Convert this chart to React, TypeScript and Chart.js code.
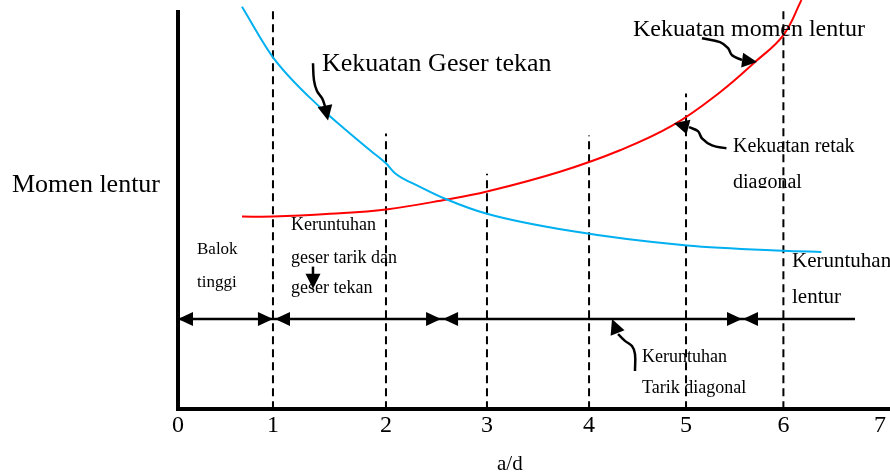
import React, { useEffect, useRef } from 'react';
import { Chart, registerables } from 'chart.js';

Chart.register(...registerables);

// ---- Data ----
const xTickValues = [0, 0.947, 2.074, 3.081, 4.099, 5.066, 6.037, 7.0];
const xTickLabels = ['0', '1', '2', '3', '4', '5', '6', '7'];

// Kekuatan Geser tekan (blue)
const shearX = [0.638, 0.947, 1.416, 1.665, 1.915, 2.074, 2.164, 2.413, 2.682, 3.081, 3.909, 5.076, 6.037, 6.416];
const shearY = [101.3, 88.6, 76.0, 70.5, 65.2, 61.9, 59.4, 56.0, 52.8, 49.2, 44.9, 41.2, 39.9, 39.6];

// Kekuatan momen lentur (red)
const momentX = [0.638, 0.947, 1.516, 2.074, 2.682, 3.081, 3.809, 4.408, 4.936, 5.405, 5.754, 6.037, 6.217];
const momentY = [48.5, 48.5, 49.2, 50.3, 52.8, 54.8, 59.8, 65.2, 71.5, 79.8, 87.4, 94.2, 103.0];

// Dashed region dividers
const dividerX = [0.947, 2.074, 3.081, 4.099, 5.066, 6.037];
const dividerTop = [100.5, 69.4, 59.3, 68.9, 79.5, 100.5];

// Failure-mode range bar with arrowheads
const rangeBarY = 22.7;
const rangeBarStart = 0;
const rangeBarEnd = 6.751;
const rangeArrowX = [0, 0.947, 0.967, 2.623, 2.643, 5.624, 5.634];
const rangeArrowDir = [-1, 1, -1, 1, -1, 1, -1];

// Pointer arrows (last point = arrow tip)
const geserPointerX = [1.346, 1.356, 1.386, 1.436, 1.466, 1.496];
const geserPointerY = [87.1, 82.8, 80.1, 78.3, 76.3, 72.7];
const momenPointerX = [5.225, 5.405, 5.485, 5.525, 5.624, 5.774];
const momenPointerY = [93.4, 92.4, 90.9, 89.1, 87.9, 87.4];
const retakPointerX = [5.469, 5.325, 5.225, 5.185, 5.096, 4.946];
const retakPointerY = [65.7, 66.4, 68.2, 70.0, 71.0, 72.0];
const tarikPointerX = [4.557, 4.557, 4.527, 4.457, 4.388, 4.328];
const tarikPointerY = [9.6, 13.9, 15.9, 17.2, 18.9, 22.7];
const smallPointerX = [1.346, 1.346, 1.346];
const smallPointerY = [35.9, 33.3, 30.3];

const pointers = [
  [geserPointerX, geserPointerY],
  [momenPointerX, momenPointerY],
  [retakPointerX, retakPointerY],
  [tarikPointerX, tarikPointerY],
  [smallPointerX, smallPointerY],
];

// ---- Text labels ----
const SERIF = "'Liberation Serif', 'Times New Roman', serif";
const labels = [
  { t: 'Momen lentur', x: 12, y: 192, size: 26 },
  { t: 'Kekuatan Geser tekan', x: 322, y: 71, size: 26 },
  { t: 'Kekuatan momen lentur', x: 633, y: 36, size: 24 },
  { t: 'Kekuatan retak', x: 733, y: 152, size: 20 },
  { t: 'diagonal', x: 733, y: 188, size: 20, clip: 188 },
  { t: 'Keruntuhan', x: 792, y: 267, size: 21 },
  { t: 'lentur', x: 792, y: 303, size: 21 },
  { t: 'Keruntuhan', x: 642, y: 362, size: 18 },
  { t: 'Tarik diagonal', x: 642, y: 393, size: 18 },
  { t: 'Balok', x: 197, y: 254, size: 17 },
  { t: 'tinggi', x: 197, y: 287, size: 17 },
  { t: 'Keruntuhan', x: 291, y: 230, size: 18 },
  { t: 'geser tarik dan', x: 291, y: 263, size: 18 },
  { t: 'geser tekan', x: 291, y: 293, size: 18 },
  { t: 'a/d', x: 497, y: 470, size: 21 },
];

const zip = (xs: number[], ys: number[]) => xs.map((x, i) => ({ x, y: ys[i] }));

function drawHead(ctx: CanvasRenderingContext2D, tx: number, ty: number, fx: number, fy: number, len: number, half: number) {
  const a = Math.atan2(ty - fy, tx - fx);
  const c = Math.cos(a);
  const s = Math.sin(a);
  ctx.beginPath();
  ctx.moveTo(tx, ty);
  ctx.lineTo(tx - len * c + half * s, ty - len * s - half * c);
  ctx.lineTo(tx - len * c - half * s, ty - len * s + half * c);
  ctx.closePath();
  ctx.fill();
}

const annotationPlugin = {
  id: 'diagramAnnotations',
  afterDatasetsDraw(chart: any) {
    const { ctx } = chart;
    const xs = chart.scales.x;
    const ys = chart.scales.y;
    ctx.save();
    ctx.fillStyle = '#000';
    rangeArrowX.forEach((v, i) => {
      const tx = xs.getPixelForValue(v);
      const ty = ys.getPixelForValue(rangeBarY);
      drawHead(ctx, tx, ty, tx - rangeArrowDir[i] * 10, ty, 15, 7);
    });
    pointers.forEach(([px, py]) => {
      const n = px.length;
      const tx = xs.getPixelForValue(px[n - 1]);
      const ty = ys.getPixelForValue(py[n - 1]);
      const fx = xs.getPixelForValue(px[n - 2]);
      const fy = ys.getPixelForValue(py[n - 2]);
      drawHead(ctx, tx, ty, fx, fy, 15, 7.5);
    });
    ctx.restore();
  },
  afterDraw(chart: any) {
    const { ctx } = chart;
    ctx.save();
    ctx.fillStyle = '#000';
    ctx.textBaseline = 'alphabetic';
    ctx.textAlign = 'left';
    labels.forEach((l: any) => {
      ctx.save();
      if (l.clip) {
        ctx.beginPath();
        ctx.rect(0, 0, chart.width, l.clip);
        ctx.clip();
      }
      ctx.font = `${l.size}px ${SERIF}`;
      ctx.fillText(l.t, l.x, l.y);
      ctx.restore();
    });
    ctx.restore();
  },
};

export default function App() {
  const ref = useRef<HTMLCanvasElement | null>(null);

  useEffect(() => {
    if (!ref.current) return;
    document.body.style.margin = '0';

    const dividerData: any[] = [];
    dividerX.forEach((x, i) => {
      dividerData.push({ x, y: 0 }, { x, y: dividerTop[i] }, { x, y: null });
    });

    const pointerSets = pointers.map(([px, py]) => ({
      data: zip(px.slice(0, -1), py.slice(0, -1)),
      borderColor: '#000',
      borderWidth: 2.5,
      tension: 0.4,
      pointRadius: 0,
      clip: false as any,
    }));

    const chart = new Chart(ref.current, {
      type: 'line',
      data: {
        datasets: [
          {
            label: 'Kekuatan Geser tekan',
            data: zip(shearX, shearY),
            borderColor: '#00b0f0',
            borderWidth: 2,
            cubicInterpolationMode: 'monotone',
            pointRadius: 0,
            clip: false as any,
          },
          {
            label: 'Kekuatan momen lentur',
            data: zip(momentX, momentY),
            borderColor: '#ff0000',
            borderWidth: 2,
            tension: 0.4,
            pointRadius: 0,
            clip: false as any,
          },
          {
            label: 'dividers',
            data: dividerData,
            borderColor: '#000',
            borderWidth: 2,
            borderDash: [8, 5],
            spanGaps: false,
            pointRadius: 0,
            tension: 0,
            clip: false as any,
          },
          {
            label: 'range',
            data: [
              { x: rangeBarStart, y: rangeBarY },
              { x: rangeBarEnd, y: rangeBarY },
            ],
            borderColor: '#000',
            borderWidth: 2.5,
            pointRadius: 0,
            tension: 0,
          },
          ...pointerSets,
        ] as any,
      },
      options: {
        responsive: false,
        animation: false,
        layout: { padding: { left: 178, top: 12, right: 0, bottom: 31 } },
        plugins: {
          legend: { display: false },
          tooltip: { enabled: false },
        },
        scales: {
          x: {
            type: 'linear',
            min: 0,
            max: 7.1,
            grid: { display: false, drawTicks: false },
            border: { display: true, color: '#000', width: 4 },
            afterBuildTicks: (scale: any) => {
              scale.ticks = xTickValues.map((v) => ({ value: v }));
            },
            ticks: {
              autoSkip: false,
              maxRotation: 0,
              padding: 2,
              color: '#000',
              font: { family: SERIF, size: 24 },
              callback: (_v: any, i: number) => xTickLabels[i],
            },
          },
          y: {
            type: 'linear',
            min: 0,
            max: 100,
            grid: { display: false, drawTicks: false },
            border: { display: true, color: '#000', width: 4 },
            ticks: { display: false },
          },
        },
      } as any,
      plugins: [annotationPlugin],
    });

    return () => chart.destroy();
  }, []);

  return (
    <div style={{ position: 'absolute', left: 0, top: 0, width: 890, height: 473, background: '#fff' }}>
      <canvas ref={ref} width={890} height={473} style={{ display: 'block', width: 890, height: 473 }} />
    </div>
  );
}
